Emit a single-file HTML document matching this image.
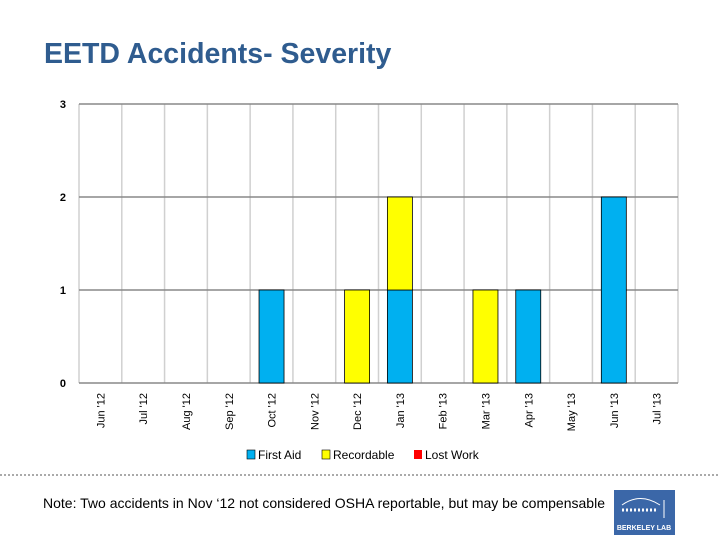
<!DOCTYPE html>
<html><head><meta charset="utf-8"><style>
body{margin:0;width:720px;height:540px;background:#fff;overflow:hidden;font-family:"Liberation Sans",Arial,sans-serif}
</style></head><body>
<svg width="720" height="540" xmlns="http://www.w3.org/2000/svg">
<text x="44" y="63" font-size="28.5" font-weight="bold" fill="#2f5c8f">EETD Accidents-  Severity</text>
<g id="grid"></g><g id="bars"></g><g id="axes"></g>
<g font-size="12" fill="#000">
<rect x="247" y="450" width="8" height="9" fill="#00b0f0" stroke="#000" stroke-width="0.6"/>
<text x="258" y="459">First Aid</text>
<rect x="322" y="450" width="8" height="9" fill="#ffff00" stroke="#000" stroke-width="0.6"/>
<text x="333" y="459">Recordable</text>
<rect x="414" y="450" width="8" height="9" fill="#ff0000"/>
<text x="425" y="459">Lost Work</text>
</g>
<line x1="0" y1="475" x2="720" y2="475" stroke="#555" stroke-dasharray="2,2"/>
<text x="43" y="508" font-size="14" textLength="562" lengthAdjust="spacingAndGlyphs" fill="#000">Note: Two accidents in Nov ‘12 not considered OSHA reportable, but may be compensable</text>
<g>
<rect x="614" y="490" width="61" height="45" fill="#3b67a8"/>
<path d="M622 505 Q640 492 660 505" stroke="#fff" fill="none" stroke-width="1"/>
<line x1="622" y1="510" x2="658" y2="510" stroke="#fff" stroke-dasharray="2,2" stroke-width="3"/>
<line x1="664" y1="500" x2="664" y2="518" stroke="#fff"/>
<text x="644" y="530" font-size="7" font-weight="bold" fill="#fff" text-anchor="middle">BERKELEY LAB</text>
</g>
</svg>
<script>
const categories=["Jun '12","Jul '12","Aug '12","Sep '12","Oct '12","Nov '12","Dec '12","Jan '13","Feb '13","Mar '13","Apr '13","May '13","Jun '13","Jul '13"];
const firstAid=[0,0,0,0,1,0,0,1,0,0,1,0,2,0];
const recordable=[0,0,0,0,0,0,1,1,0,1,0,0,0,0];
const lostWork=[0,0,0,0,0,0,0,0,0,0,0,0,0,0];
const yTicks=[0,1,2,3];
const NS="http://www.w3.org/2000/svg";
const x0=79,x1=678,yTop=104,yBot=383,yMax=3;
const bw=(x1-x0)/categories.length;
const X=i=>x0+i*bw;
const Y=v=>yBot-(v/yMax)*(yBot-yTop);
function mk(tag,attrs,parent){const e=document.createElementNS(NS,tag);for(const k in attrs)e.setAttribute(k,attrs[k]);document.getElementById(parent).appendChild(e);return e;}
for(let i=0;i<=categories.length;i++){
 const l=mk('line',{x1:X(i),x2:X(i),y1:yTop,y2:yBot,stroke:'#d0d0d0','stroke-width':1.5},'grid');
 
 
}
yTicks.forEach(t=>{
 const l=mk('line',{x1:x0,x2:x1,y1:Y(t),y2:Y(t),stroke:'#888','stroke-width':1.5},'grid');
 
 
 const tx=mk('text',{x:66,y:Y(t)+4,'font-size':11,'font-weight':'bold','text-anchor':'end'},'axes');
 tx.textContent=t;
 
 
});
categories.forEach((c,i)=>{
 const cx=X(i)+bw/2;
 const series=[[firstAid,'#00b0f0','first-aid'],[recordable,'#ffff00','recordable'],[lostWork,'#ff0000','lost-work']];
 let base=0;
 series.forEach(([arr,col,nm])=>{
  const v=arr[i];
  if(v>0){
   const r=mk('rect',{x:cx-12.5,width:25,y:Y(base+v),height:Y(base)-Y(base+v),fill:col,stroke:'#000','stroke-width':0.8},'bars');
   
   
  }
  base+=v;
 });
 const t=mk('text',{'font-size':11,'text-anchor':'end',transform:`translate(${cx+4},393) rotate(-90)`},'axes');
 t.textContent=c;
 
 
});
</script>
</body></html>
